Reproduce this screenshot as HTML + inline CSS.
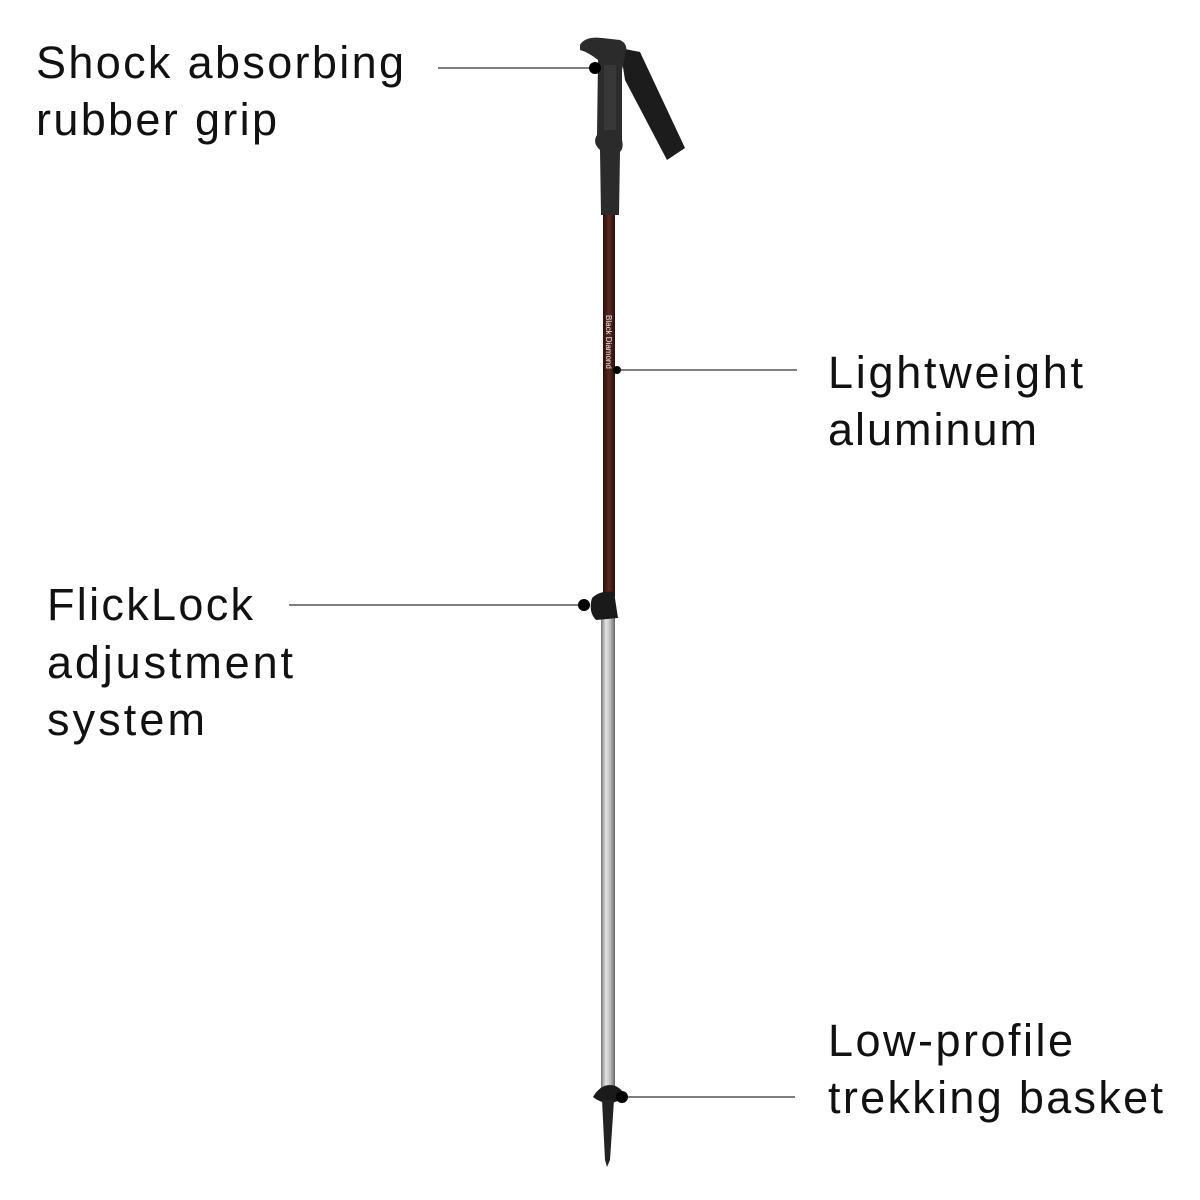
<!DOCTYPE html>
<html><head><meta charset="utf-8"><style>
html,body{margin:0;padding:0;background:#fff;}
svg{display:block}
text{font-family:"Liberation Sans",sans-serif;font-size:45px;fill:#111;}
</style></head><body>
<svg width="1200" height="1200" viewBox="0 0 1200 1200" xmlns="http://www.w3.org/2000/svg">
<defs>
<linearGradient id="br" x1="0" x2="1"><stop offset="0" stop-color="#2a0e08"/><stop offset="0.5" stop-color="#5a2a22"/><stop offset="1" stop-color="#2a0e08"/></linearGradient>
<linearGradient id="si" x1="0" x2="1"><stop offset="0" stop-color="#777"/><stop offset="0.35" stop-color="#e4e4e4"/><stop offset="0.65" stop-color="#bdbdbd"/><stop offset="1" stop-color="#666"/></linearGradient>
</defs>
<text x="36" y="78" textLength="368">Shock absorbing</text>
<text x="36" y="135" textLength="241">rubber grip</text>
<text x="828" y="388" textLength="255">Lightweight</text>
<text x="828" y="445" textLength="209">aluminum</text>
<text x="47" y="620" textLength="206">FlickLock</text>
<text x="47" y="678" textLength="246">adjustment</text>
<text x="47" y="735" textLength="158">system</text>
<text x="828" y="1056" textLength="245">Low-profile</text>
<text x="828" y="1113" textLength="335">trekking basket</text>
<g stroke="#333" stroke-width="1.2">
<line x1="438" y1="68" x2="592" y2="68"/>
<line x1="617" y1="370" x2="797" y2="370"/>
<line x1="289" y1="605" x2="584" y2="605"/>
<line x1="622" y1="1097" x2="795" y2="1097"/>
</g>
<rect x="601" y="612" width="14" height="485" fill="url(#si)"/>
<rect x="603" y="212" width="12" height="385" fill="url(#br)"/>
<path d="M620 48 L640 52 L685 148 L667 160 L625 80 Z" fill="#1c1c1c"/>
<path d="M580 45 Q585 36 602 38 L620 40 Q628 44 626 52 L622 70 L622 140 Q624 148 620 152 L619 215 L601 215 L600 150 Q592 143 597 135 L598 60 Q588 52 580 50 Z" fill="#2b2b2b"/>
<path d="M604 65 L616 65 L616 130 L604 130 Z" fill="#383838"/>
<path d="M592 598 Q600 590 614 592 L618 618 L596 620 Q588 612 592 598 Z" fill="#1a1a1a"/>
<path d="M593 1097 Q600 1085 610 1085 Q620 1085 626 1097 Q615 1103 610 1103 Q600 1103 593 1097 Z" fill="#1a1a1a"/>
<path d="M602 1100 L614 1100 L610 1160 L607 1167 L605 1160 Z" fill="#222"/>
<g fill="#000">
<circle cx="595" cy="68" r="6"/>
<circle cx="617" cy="370" r="4"/>
<circle cx="584" cy="605" r="6"/>
<circle cx="622" cy="1097" r="6"/>
</g>
<text x="0" y="0" transform="translate(606,315) rotate(90)" style="font-size:8px;fill:#eee">Black Diamond</text>
</svg>
</body></html>
